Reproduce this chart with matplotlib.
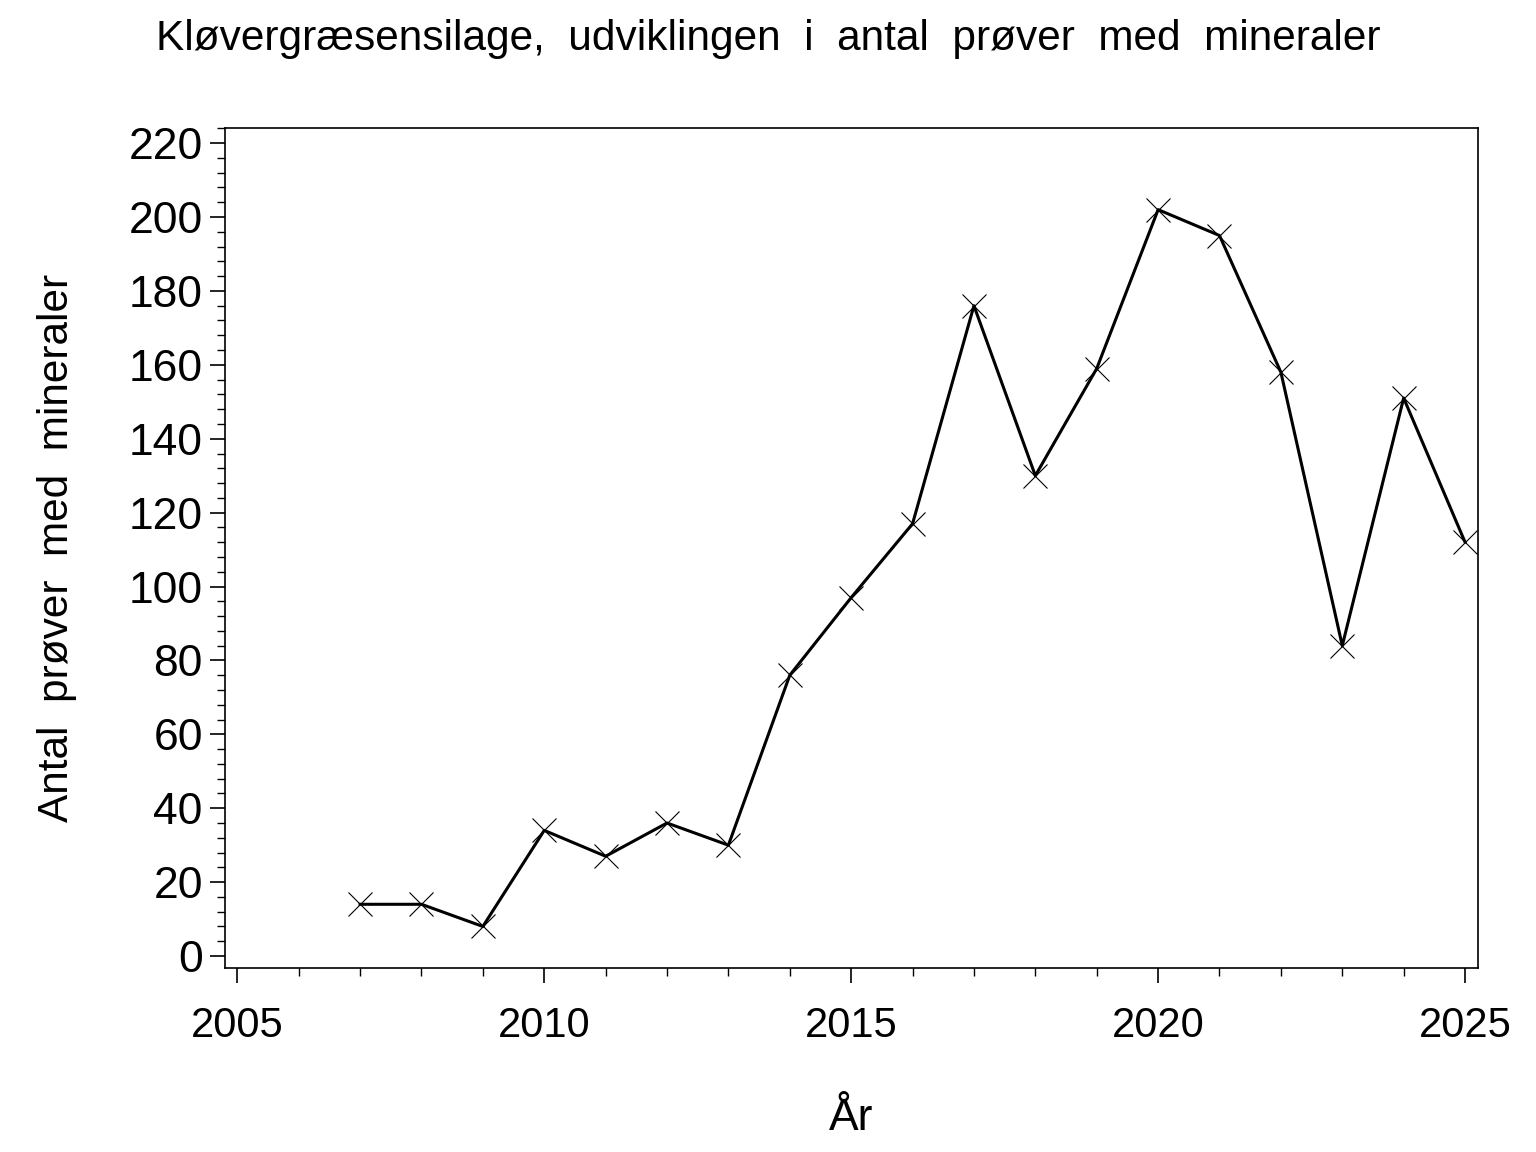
import numpy as np
import matplotlib
matplotlib.use("Agg")
from matplotlib import pyplot as plt
from matplotlib.ticker import MultipleLocator

years = [2007, 2008, 2009, 2010, 2011, 2012, 2013, 2014, 2015, 2016,
         2017, 2018, 2019, 2020, 2021, 2022, 2023, 2024, 2025]
antal = [14, 14, 8, 34, 27, 36, 30, 76, 97, 117,
         176, 130, 159, 202, 195, 158, 84, 151, 112]

title = "Kløvergræsensilage,  udviklingen  i  antal  prøver  med  mineraler"
x_label = "År"
y_label = "Antal  prøver  med  mineraler"

plt.rcParams['font.family'] = ['Liberation Sans', 'DejaVu Sans']

fig = plt.figure(figsize=(15.36, 11.52), dpi=100)
ax = fig.add_axes([0.1465, 0.1597, 0.9622 - 0.1465, 0.8889 - 0.1597])

ax.plot(years, antal, color='black', linewidth=2.2, marker='x',
        markersize=17, markeredgewidth=0.8)

ax.set_xlim(2004.8, 2025.21)
ax.set_ylim(-3.25, 224.1)
ax.xaxis.set_major_locator(MultipleLocator(5))
ax.xaxis.set_minor_locator(MultipleLocator(1))
ax.yaxis.set_major_locator(MultipleLocator(20))
ax.yaxis.set_minor_locator(MultipleLocator(4))

ax.tick_params(which='major', direction='out', length=11, width=1.2)
ax.tick_params(which='minor', direction='out', length=6, width=1.0)
ax.tick_params(axis='x', which='major', labelsize=30, pad=16)
ax.tick_params(axis='y', which='major', labelsize=32, pad=5)
for s in ax.spines.values():
    s.set_linewidth(1.2)

ax.set_xlabel(x_label, fontsize=32, labelpad=38)
ax.set_ylabel(y_label, fontsize=30.5, labelpad=37)
fig.text(0.5, 0.966, title, ha='center', va='center', fontsize=30.5)

fig.savefig("out.png", dpi=100)
